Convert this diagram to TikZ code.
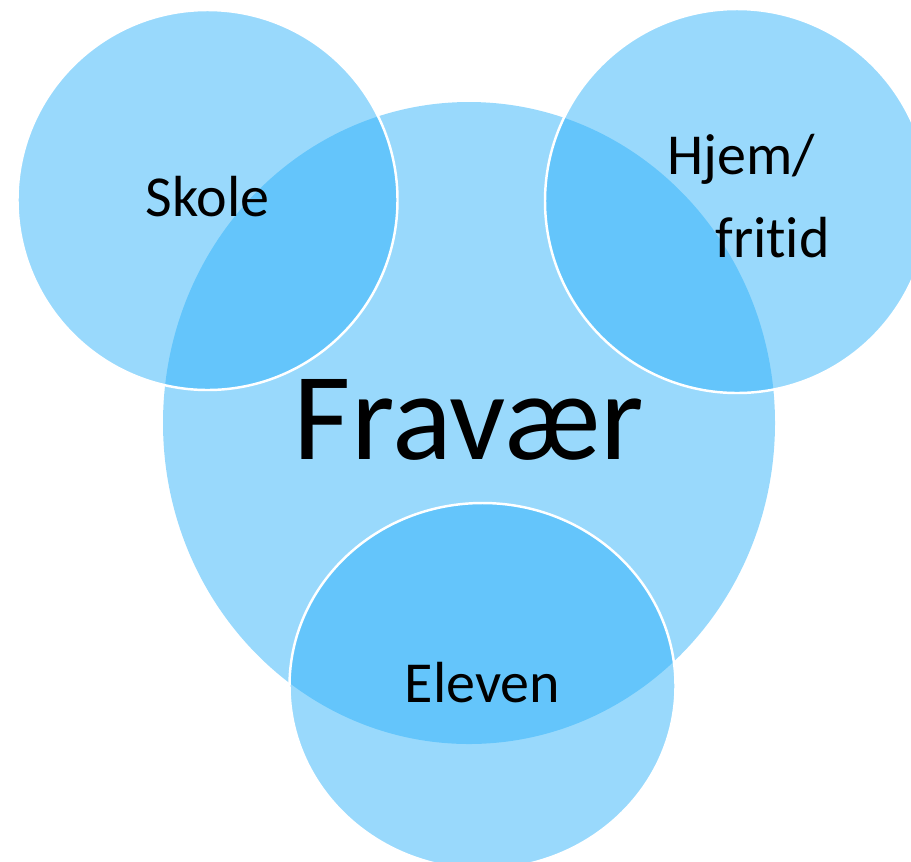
\documentclass[tikz,border=0pt]{standalone}
\usepackage{fontspec}
\setmainfont{Carlito}[Ligatures=NoCommon]
\usetikzlibrary{shapes.geometric, positioning, calc}
\definecolor{SkyBlue}{RGB}{42,176,249}

\begin{document}
\begin{tikzpicture}[
    bubble/.style={circle, fill=SkyBlue, fill opacity=0.48, draw=white,
                   line width=1.4pt, inner sep=0pt},
    lbl/.style={text=black, font=\fontsize{33}{40}\selectfont, inner sep=0pt, anchor=base}
]
    \useasboundingbox (0,0) rectangle (18.22,-17.22);
    \clip (0,0) rectangle (18.22,-17.22);

    % Big centre circle
    \node[ellipse, fill=SkyBlue, fill opacity=0.48, inner sep=0pt,
          minimum width=12.24cm, minimum height=12.84cm] (fravaer) at (9.38,-8.46) {};

    % Three overlapping circles
    \node[bubble, minimum size=7.6cm] (skole) at (4.15,-4.0) {};
    \node[bubble, minimum size=7.68cm] (hjem) at (14.74,-4.02) {};
    \node[bubble, ellipse, minimum width=7.72cm, minimum height=7.32cm] (elev) at (9.65,-13.72) {};

    % Labels
    \node[lbl, font=\fontsize{71}{85}\selectfont] (fravaertxt) at ([yshift=-0.72cm]fravaer.center) {Fravær};
    \node[lbl] (skoletxt) at ([yshift=-0.32cm]skole.center) {Skole};
    \node[lbl, anchor=base west] (hjemtxt) at ([shift={(-1.4,0.54)}]hjem.center) {Hjem/};
    \node[lbl, anchor=base west] (fritidtxt) at ([shift={(-0.44,-1.12)}]hjem.center) {fritid};
    \node[lbl] (elevtxt) at ([yshift=-0.32cm]elev.center) {Eleven};
\end{tikzpicture}
\end{document}
